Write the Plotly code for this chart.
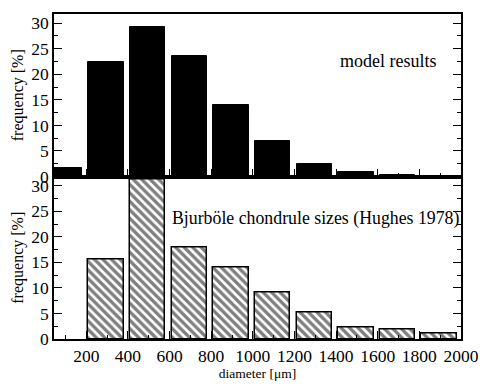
import plotly.graph_objects as go

bin_centers = [100, 300, 500, 700, 900, 1100, 1300, 1500, 1700, 1900]
model_freq = [1.6, 22.5, 29.2, 23.5, 13.9, 7.0, 2.4, 0.9, 0.3, 0.1]
hughes_freq = [0.0, 15.5, 31.2, 18.0, 14.0, 9.1, 5.2, 2.2, 1.8, 1.1]
x_ticks = [200, 400, 600, 800, 1000, 1200, 1400, 1600, 1800, 2000]
y_ticks = [0, 5, 10, 15, 20, 25, 30]

FONT = "Liberation Serif"
TICKSIZE = 17.5

fig = go.Figure()
fig.add_trace(go.Bar(
    x=bin_centers, y=model_freq, width=170, offset=-90,
    marker=dict(color="black", line=dict(color="black", width=1)),
    xaxis="x", yaxis="y", showlegend=False,
))
fig.add_trace(go.Bar(
    x=bin_centers, y=hughes_freq, width=170, offset=-90,
    marker=dict(color="white",
                line=dict(color="black", width=[0 if v == 0 else 1.5 for v in hughes_freq]),
                pattern=dict(shape="\\", fgcolor="black", bgcolor="white",
                             size=6, solidity=0.55, fillmode="overlay")),
    xaxis="x2", yaxis="y2", showlegend=False,
))

xcommon = dict(range=[45, 2000], tickvals=x_ticks, ticks="inside", ticklen=8,
               tickwidth=1, tickcolor="black", showline=True, linecolor="black",
               linewidth=1.5, mirror=True, showgrid=False, zeroline=False,
               minor=dict(dtick=100, tick0=0, ticks="inside", ticklen=4,
                          tickcolor="black", tickwidth=1))
ycommon = dict(range=[0, 31.8], tickvals=y_ticks, ticks="inside", ticklen=8,
               tickwidth=1, tickcolor="black", showline=True, linecolor="black",
               linewidth=1.5, mirror="ticks", showgrid=False, zeroline=False,
               tickfont=dict(family=FONT, size=TICKSIZE, color="black"),
               minor=dict(dtick=2.5, tick0=0, ticks="inside", ticklen=4,
                          tickcolor="black", tickwidth=1))

fig.update_layout(
    width=491, height=387,
    margin=dict(l=54, r=19, t=12, b=34),
    paper_bgcolor="white", plot_bgcolor="white",
    font=dict(family=FONT, color="black"),
    bargap=0,
    xaxis=dict(**xcommon, anchor="y", showticklabels=False),
    yaxis=dict(**ycommon, domain=[0.5, 1.0], anchor="x",
               title=dict(text="frequency [%]", font=dict(family=FONT, size=16), standoff=4)),
    xaxis2=dict(**xcommon, anchor="y2", matches="x",
                tickfont=dict(family=FONT, size=TICKSIZE, color="black"),
                title=dict(text="diameter [μm]", font=dict(family=FONT, size=13.5), standoff=0)),
    yaxis2=dict(**ycommon, domain=[0.0, 0.5], anchor="x2",
                title=dict(text="frequency [%]", font=dict(family=FONT, size=16), standoff=4)),
    annotations=[
        dict(text="model results", x=0.945, y=0.855, xref="paper", yref="paper",
             xanchor="right", yanchor="middle", showarrow=False,
             font=dict(family=FONT, size=18, color="black")),
        dict(text="Bjurböle chondrule sizes (Hughes 1978)", x=1.0, y=0.37,
             xref="paper", yref="paper", xanchor="right", yanchor="middle",
             showarrow=False, font=dict(family=FONT, size=17.8, color="black")),
    ],
)

fig.write_html("out.html")
